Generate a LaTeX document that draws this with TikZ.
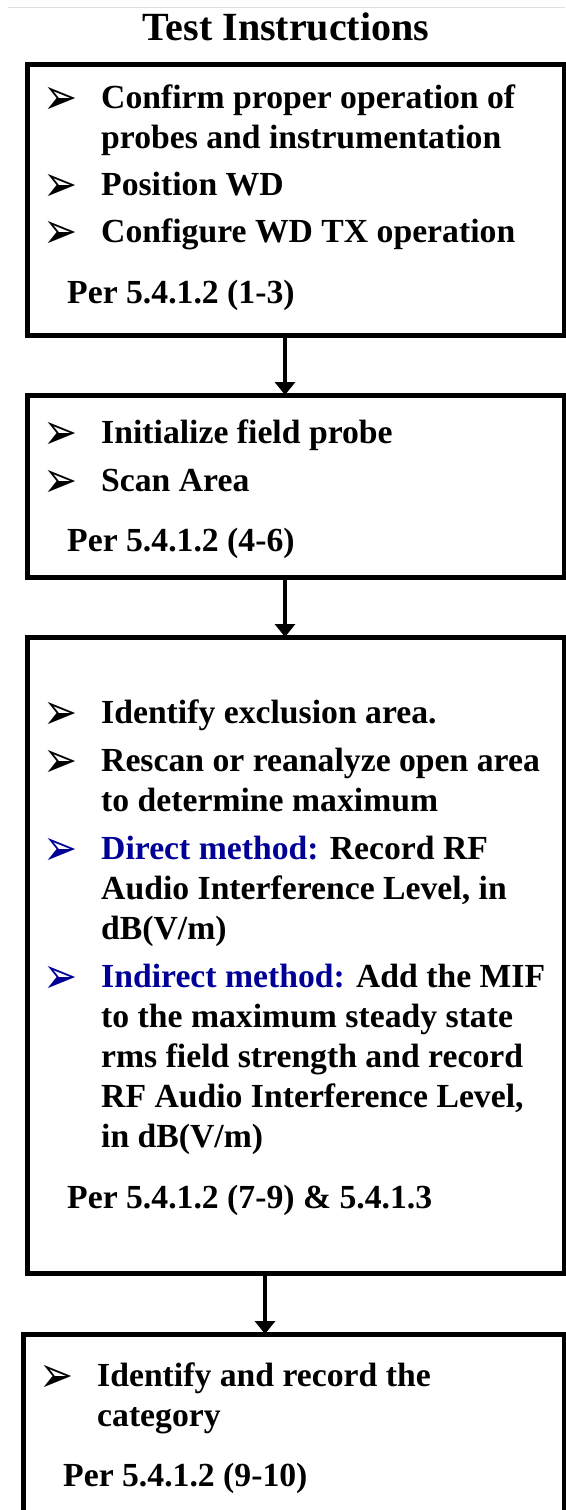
\documentclass[tikz,border=0pt]{standalone}
\usepackage{fontspec}
\setmainfont{Liberation Serif}
\newfontfamily\bulletfont{DejaVu Sans}
\usetikzlibrary{arrows.meta,calc}
\definecolor{MethodBlue}{HTML}{000096}
\newcommand\bul{\makebox[58pt][l]{\raisebox{-6pt}[0pt][0pt]{\scalebox{1.2}[1.5]{\bulletfont\fontsize{34}{34}\selectfont ➢}}}}
\newcommand\ind{\hspace*{58pt}}
\newcommand\per{\hspace*{24pt}}

\begin{document}
\begin{tikzpicture}[x=1pt,y=-1pt,line join=miter,
  stepbox/.style={draw,line width=5pt,outer sep=0pt,inner sep=0pt,anchor=north west},
  steptext/.style={anchor=base west,align=left,inner sep=0pt,
    font=\bfseries\fontsize{33.7}{40}\selectfont},
  flow/.style={line width=4pt,-{Triangle[width=20pt,length=13pt]}}]
  \useasboundingbox (0,0) rectangle (565,1510);
  \draw[black!12,line width=1pt] (8,7) -- (565,7);
  \node[anchor=base,font=\bfseries\fontsize{40}{40}\selectfont] (head) at (286,40) {Test Instructions};

  % boxes
  \node[stepbox,minimum width=536.5pt,minimum height=271pt] (b1) at (27.5,64) {};
  \node[stepbox,minimum width=536.5pt,minimum height=182pt] (b2) at (27.5,395) {};
  \node[stepbox,minimum width=536.5pt,minimum height=636pt] (b3) at (27.5,637) {};
  \node[stepbox,minimum width=540.5pt,minimum height=206pt] (b4) at (23.5,1334) {};

  % box texts, placed at the baseline of their last line
  \node[steptext] (t1) at (43,303) {\bul Confirm proper operation of\\
    \ind probes and instrumentation\\[7pt]
    \bul Position WD\\[7pt]
    \bul Configure WD TX operation\\[20.5pt]
    \per Per 5.4.1.2 (1-3)};
  \node[steptext] (t2) at (43,551.5) {\bul Initialize field probe\\[8pt]
    \bul Scan Area\\[20.5pt]
    \per Per 5.4.1.2 (4-6)};
  \node[steptext] (t3) at (43,1208) {\bul Identify exclusion area.\\[8pt]
    \bul Rescan or reanalyze open area\\
    \ind to determine maximum\\[8pt]
    {\color{MethodBlue}\bul Direct method:} Record RF\\
    \ind Audio Interference Level, in\\
    \ind dB(V/m)\\[8pt]
    {\color{MethodBlue}\bul Indirect method:} Add the MIF\\
    \ind to the maximum steady state\\
    \ind rms field strength and record\\
    \ind RF Audio Interference Level,\\
    \ind in dB(V/m)\\[20.5pt]
    \per Per 5.4.1.2 (7-9) \& 5.4.1.3};
  \node[steptext] (t4) at (39,1486.5) {\bul Identify and record the\\
    \ind category\\[20.5pt]
    \per Per 5.4.1.2 (9-10)};

  % arrows
  \coordinate (ax) at (285,0);
  \coordinate (bx) at (265,0);
  \draw[flow] (b1.south -| ax) -- (b2.north -| ax);
  \draw[flow] (b2.south -| ax) -- (b3.north -| ax);
  \draw[flow] (b3.south -| bx) -- (b4.north -| bx);
\end{tikzpicture}
\end{document}
